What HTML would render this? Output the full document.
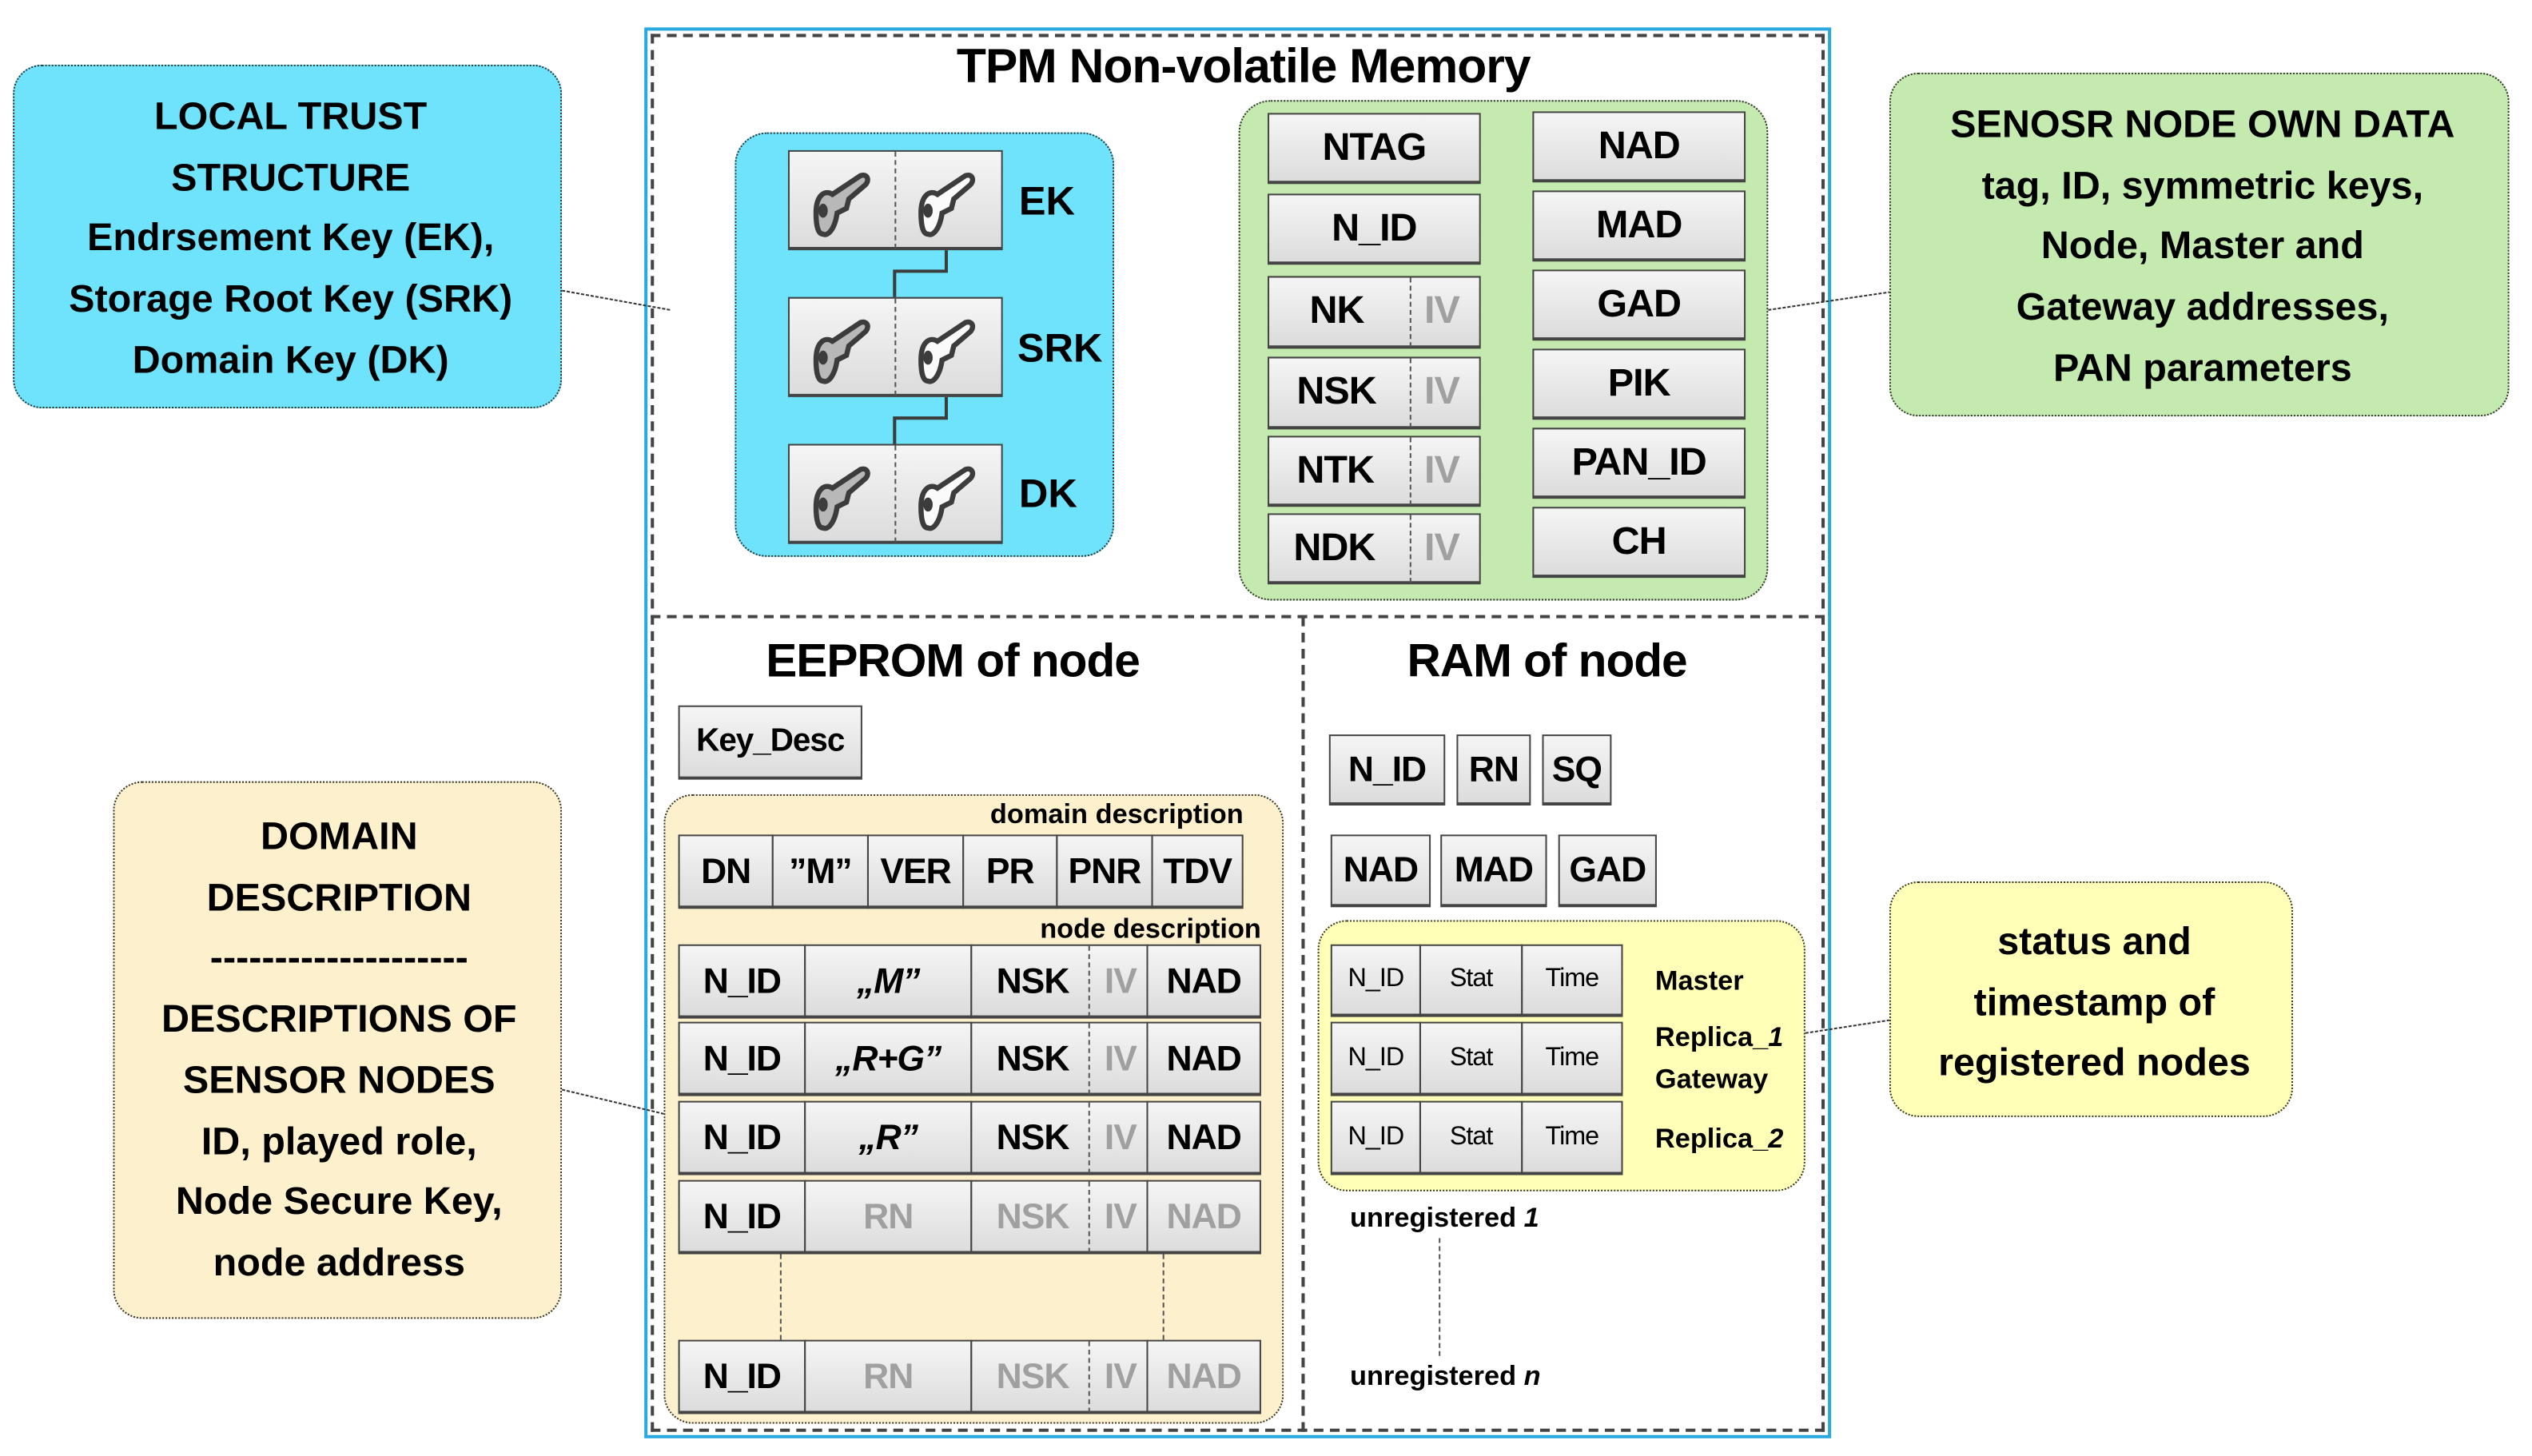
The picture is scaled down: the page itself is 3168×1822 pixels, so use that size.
<!DOCTYPE html>
<html><head><meta charset="utf-8"><style>
html,body{margin:0;padding:0;background:#fff;}
body{width:3168px;height:1822px;overflow:hidden;}
#s{position:absolute;left:0;top:0;width:1568px;height:902px;transform:scale(2.0204,2.0200);transform-origin:0 0;font-family:"Liberation Sans",sans-serif;color:#000;}
.a{position:absolute;}
.c{position:absolute;box-sizing:border-box;border:1.5px solid #444;border-bottom-width:2.5px;background:linear-gradient(#f5f5f5,#dcdcdc);display:flex;align-items:center;justify-content:center;font-weight:bold;font-size:22px;letter-spacing:-0.5px;}
.g{color:#a0a0a0;}
.t{position:absolute;font-weight:bold;white-space:nowrap;text-align:center;}
.box{position:absolute;box-sizing:border-box;border:1.5px dotted #333;}
.dl{position:absolute;border-left:1.5px dashed #555;}
.sm{font-weight:normal;font-size:16px;}
</style></head><body><div id="s">

<div class="a" style="left:399px;top:17px;width:735px;height:874px;box-sizing:border-box;border:2px solid #2aa8e0;"></div>
<div class="a" style="left:403px;top:21px;width:727px;height:866px;box-sizing:border-box;border:2.5px dashed #444;"></div>
<div class="a" style="left:403px;top:381px;width:727px;border-top:2.5px dashed #444;"></div>
<div class="a" style="left:806px;top:382px;height:505px;border-left:2.5px dashed #444;"></div>

<div class="t" style="left:520px;top:25px;width:500px;font-size:30px;letter-spacing:-0.5px;">TPM Non-volatile Memory</div>

<div class="box" style="left:455px;top:82px;width:235px;height:263px;border-radius:20px;background:#6ee3fb;"></div>
<svg class="a" style="left:0;top:0" width="1568" height="902">
<defs><g id="k"><path d="M3 20 C3 12 7 10 10 12 L22 4 C25 3 26 6 24 8 L17 14 L16 18 L12 20 C11 27 8 30 6 29 C4 29 3 26 3 20Z" stroke="#3c3c3c" stroke-width="2.2"/><ellipse cx="6" cy="19" rx="2" ry="3" fill="#3c3c3c"/></g></defs>
<polyline points="586,155 586,168 554,168 554,184" fill="none" stroke="#3c3c3c" stroke-width="2"/>
<polyline points="586,246 586,259 554,259 554,275" fill="none" stroke="#3c3c3c" stroke-width="2"/>
<line x1="348" y1="180" x2="415" y2="192" stroke="#333" stroke-width="1" stroke-dasharray="2,1"/>
<line x1="1095" y1="192" x2="1170" y2="181" stroke="#333" stroke-width="1" stroke-dasharray="2,1"/>
<line x1="348" y1="675" x2="411" y2="690" stroke="#333" stroke-width="1" stroke-dasharray="2,1"/>
<line x1="1118" y1="640" x2="1170" y2="632" stroke="#333" stroke-width="1" stroke-dasharray="2,1"/>
</svg>

<div class="c" style="left:488px;top:93px;width:133px;height:62px;"></div>
<div class="c" style="left:488px;top:184px;width:133px;height:62px;"></div>
<div class="c" style="left:488px;top:275px;width:133px;height:62px;"></div>
<div class="dl" style="left:554px;top:94px;height:60px;"></div>
<div class="dl" style="left:554px;top:185px;height:60px;"></div>
<div class="dl" style="left:554px;top:276px;height:60px;"></div>
<svg class="a" style="left:0;top:0" width="1568" height="902">
<use href="#k" transform="translate(501,103) scale(1.45)" fill="#b8b8b8"/><use href="#k" transform="translate(566,103) scale(1.45)" fill="#fafafa"/>
<use href="#k" transform="translate(501,194) scale(1.45)" fill="#b8b8b8"/><use href="#k" transform="translate(566,194) scale(1.45)" fill="#fafafa"/>
<use href="#k" transform="translate(501,285) scale(1.45)" fill="#b8b8b8"/><use href="#k" transform="translate(566,285) scale(1.45)" fill="#fafafa"/>
</svg>
<div class="t" style="left:631px;top:111px;font-size:25px;">EK</div>
<div class="t" style="left:630px;top:202px;font-size:25px;">SRK</div>
<div class="t" style="left:631px;top:292px;font-size:25px;">DK</div>

<div class="box" style="left:767px;top:62px;width:328px;height:310px;border-radius:20px;background:#c5eab0;"></div>
<div class="c" style="left:785px;top:70px;width:132px;height:44px;font-size:24px;">NTAG</div>
<div class="c" style="left:785px;top:120px;width:132px;height:44px;font-size:24px;">N_ID</div>
<div class="c" style="left:785px;top:171px;width:132px;height:45px;font-size:24px;"><span style="position:absolute;left:25px">NK</span><span class="g" style="position:absolute;left:96px">IV</span></div>
<div class="c" style="left:785px;top:221px;width:132px;height:45px;font-size:24px;"><span style="position:absolute;left:17px">NSK</span><span class="g" style="position:absolute;left:96px">IV</span></div>
<div class="c" style="left:785px;top:270px;width:132px;height:44px;font-size:24px;"><span style="position:absolute;left:17px">NTK</span><span class="g" style="position:absolute;left:96px">IV</span></div>
<div class="c" style="left:785px;top:318px;width:132px;height:44px;font-size:24px;"><span style="position:absolute;left:15px">NDK</span><span class="g" style="position:absolute;left:96px">IV</span></div>
<div class="dl" style="left:873px;top:172px;height:43px;"></div>
<div class="dl" style="left:873px;top:222px;height:43px;"></div>
<div class="dl" style="left:873px;top:271px;height:42px;"></div>
<div class="dl" style="left:873px;top:319px;height:42px;"></div>
<div class="c" style="left:949px;top:69px;width:132px;height:44px;font-size:24px;">NAD</div>
<div class="c" style="left:949px;top:118px;width:132px;height:44px;font-size:24px;">MAD</div>
<div class="c" style="left:949px;top:167px;width:132px;height:44px;font-size:24px;">GAD</div>
<div class="c" style="left:949px;top:216px;width:132px;height:44px;font-size:24px;">PIK</div>
<div class="c" style="left:949px;top:265px;width:132px;height:44px;font-size:24px;">PAN_ID</div>
<div class="c" style="left:949px;top:314px;width:132px;height:44px;font-size:24px;">CH</div>

<div class="box" style="left:8px;top:40px;width:340px;height:213px;border-radius:18px;background:#6ee3fb;"></div>
<div class="t" style="left:10px;top:54px;width:340px;font-size:24px;line-height:37.7px;">LOCAL TRUST<br>STRUCTURE<br>Endrsement Key (EK),<br>Storage Root Key (SRK)<br>Domain Key (DK)</div>

<div class="box" style="left:1170px;top:45px;width:384px;height:213px;border-radius:18px;background:#c5eab0;"></div>
<div class="t" style="left:1172px;top:59px;width:384px;font-size:24px;line-height:37.7px;">SENOSR NODE OWN DATA<br>tag, ID, symmetric keys,<br>Node, Master and<br>Gateway addresses,<br>PAN parameters</div>

<div class="t" style="left:440px;top:394px;width:300px;font-size:29px;letter-spacing:-0.5px;">EEPROM of node</div>
<div class="c" style="left:420px;top:437px;width:114px;height:46px;font-size:20px;">Key_Desc</div>
<div class="box" style="left:411px;top:492px;width:384px;height:390px;border-radius:18px;background:#fdf0cc;"></div>
<div class="t" style="left:560px;top:495px;width:210px;text-align:right;font-size:17px;">domain description</div>
<div class="c" style="left:420px;top:517px;width:59px;height:46px;">DN</div>
<div class="c" style="left:478px;top:517px;width:60px;height:46px;">”M”</div>
<div class="c" style="left:537px;top:517px;width:60px;height:46px;">VER</div>
<div class="c" style="left:596px;top:517px;width:59px;height:46px;">PR</div>
<div class="c" style="left:654px;top:517px;width:60px;height:46px;">PNR</div>
<div class="c" style="left:713px;top:517px;width:57px;height:46px;">TDV</div>
<div class="t" style="left:570px;top:566px;width:211px;text-align:right;font-size:17px;">node description</div>

<div class="c" style="left:420px;top:585px;width:79px;height:46px;">N_ID</div>
<div class="c" style="left:498px;top:585px;width:104px;height:46px;font-style:italic;">„M”</div>
<div class="c" style="left:601px;top:585px;width:110px;height:46px;justify-content:flex-start;"><span style="margin-left:15px">NSK</span><span class="g" style="margin-left:22px">IV</span></div>
<div class="c" style="left:710px;top:585px;width:71px;height:46px;">NAD</div>

<div class="c" style="left:420px;top:633px;width:79px;height:46px;">N_ID</div>
<div class="c" style="left:498px;top:633px;width:104px;height:46px;font-style:italic;">„R+G”</div>
<div class="c" style="left:601px;top:633px;width:110px;height:46px;justify-content:flex-start;"><span style="margin-left:15px">NSK</span><span class="g" style="margin-left:22px">IV</span></div>
<div class="c" style="left:710px;top:633px;width:71px;height:46px;">NAD</div>

<div class="c" style="left:420px;top:682px;width:79px;height:46px;">N_ID</div>
<div class="c" style="left:498px;top:682px;width:104px;height:46px;font-style:italic;">„R”</div>
<div class="c" style="left:601px;top:682px;width:110px;height:46px;justify-content:flex-start;"><span style="margin-left:15px">NSK</span><span class="g" style="margin-left:22px">IV</span></div>
<div class="c" style="left:710px;top:682px;width:71px;height:46px;">NAD</div>

<div class="c" style="left:420px;top:731px;width:79px;height:46px;">N_ID</div>
<div class="c g" style="left:498px;top:731px;width:104px;height:46px;">RN</div>
<div class="c g" style="left:601px;top:731px;width:110px;height:46px;justify-content:flex-start;"><span style="margin-left:15px">NSK</span><span style="margin-left:22px">IV</span></div>
<div class="c g" style="left:710px;top:731px;width:71px;height:46px;">NAD</div>

<div class="c" style="left:420px;top:830px;width:79px;height:46px;">N_ID</div>
<div class="c g" style="left:498px;top:830px;width:104px;height:46px;">RN</div>
<div class="c g" style="left:601px;top:830px;width:110px;height:46px;justify-content:flex-start;"><span style="margin-left:15px">NSK</span><span style="margin-left:22px">IV</span></div>
<div class="c g" style="left:710px;top:830px;width:71px;height:46px;">NAD</div>

<div class="dl" style="left:674px;top:586px;height:44px;"></div>
<div class="dl" style="left:674px;top:634px;height:44px;"></div>
<div class="dl" style="left:674px;top:683px;height:44px;"></div>
<div class="dl" style="left:674px;top:732px;height:44px;"></div>
<div class="dl" style="left:674px;top:831px;height:44px;"></div>
<div class="dl" style="left:483px;top:777px;height:53px;border-left-width:1px;"></div>
<div class="dl" style="left:720px;top:777px;height:53px;border-left-width:1px;"></div>

<div class="box" style="left:70px;top:484px;width:278px;height:333px;border-radius:18px;background:#fdf0cc;"></div>
<div class="t" style="left:71px;top:500px;width:278px;font-size:24px;line-height:37.7px;">DOMAIN<br>DESCRIPTION<br>--------------------<br>DESCRIPTIONS OF<br>SENSOR NODES<br>ID, played role,<br>Node Secure Key,<br>node address</div>

<div class="t" style="left:808px;top:394px;width:300px;font-size:29px;letter-spacing:-0.5px;">RAM of node</div>
<div class="c" style="left:823px;top:455px;width:72px;height:44px;">N_ID</div>
<div class="c" style="left:902px;top:455px;width:46px;height:44px;">RN</div>
<div class="c" style="left:955px;top:455px;width:43px;height:44px;">SQ</div>
<div class="c" style="left:824px;top:517px;width:62px;height:45px;">NAD</div>
<div class="c" style="left:892px;top:517px;width:66px;height:45px;">MAD</div>
<div class="c" style="left:965px;top:517px;width:61px;height:45px;">GAD</div>

<div class="box" style="left:816px;top:570px;width:302px;height:168px;border-radius:18px;background:#ffffb8;"></div>
<div class="c sm" style="left:824px;top:585px;width:56px;height:45px;">N_ID</div>
<div class="c sm" style="left:879px;top:585px;width:64px;height:45px;">Stat</div>
<div class="c sm" style="left:942px;top:585px;width:63px;height:45px;">Time</div>
<div class="c sm" style="left:824px;top:633px;width:56px;height:46px;">N_ID</div>
<div class="c sm" style="left:879px;top:633px;width:64px;height:46px;">Stat</div>
<div class="c sm" style="left:942px;top:633px;width:63px;height:46px;">Time</div>
<div class="c sm" style="left:824px;top:682px;width:56px;height:46px;">N_ID</div>
<div class="c sm" style="left:879px;top:682px;width:64px;height:46px;">Stat</div>
<div class="c sm" style="left:942px;top:682px;width:63px;height:46px;">Time</div>
<div class="t" style="left:1025px;top:598px;font-size:17px;text-align:left;">Master</div>
<div class="t" style="left:1025px;top:633px;font-size:17px;text-align:left;">Replica_<i>1</i></div>
<div class="t" style="left:1025px;top:659px;font-size:17px;text-align:left;">Gateway</div>
<div class="t" style="left:1025px;top:696px;font-size:17px;text-align:left;">Replica_<i>2</i></div>

<div class="t" style="left:836px;top:745px;font-size:17px;text-align:left;">unregistered <i>1</i></div>
<div class="t" style="left:836px;top:843px;font-size:17px;text-align:left;">unregistered <i>n</i></div>
<div class="dl" style="left:891px;top:767px;height:73px;border-left-width:1px;"></div>

<div class="box" style="left:1170px;top:546px;width:250px;height:146px;border-radius:18px;background:#ffffb8;"></div>
<div class="t" style="left:1172px;top:565px;width:250px;font-size:24px;line-height:37.5px;">status and<br>timestamp of<br>registered nodes</div>

</div></body></html>
